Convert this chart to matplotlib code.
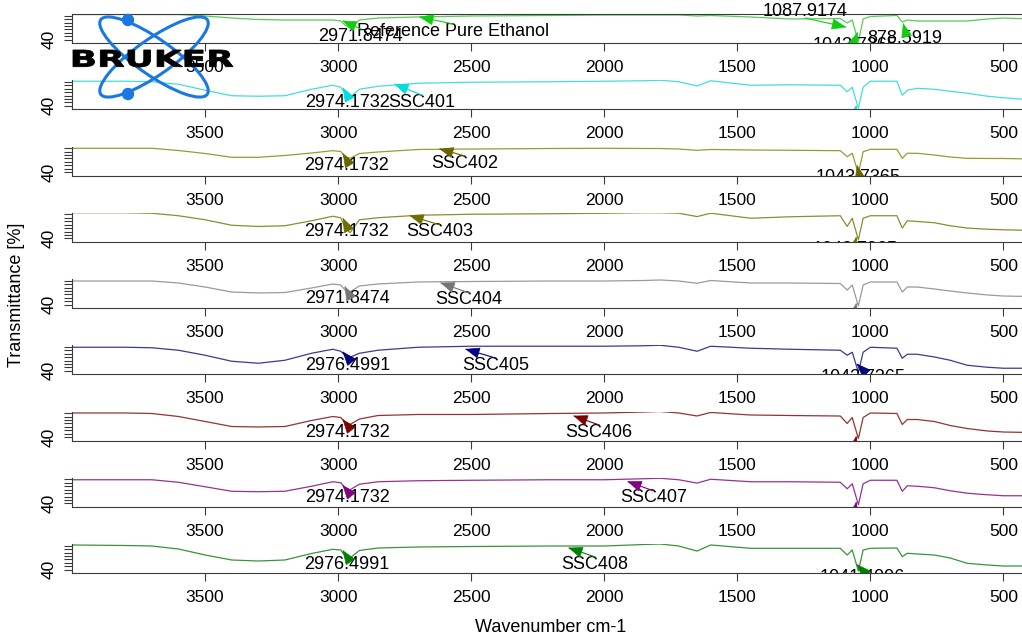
"""
FTIR spectra of the SSC40x samples against pure ethanol, stacked panels
"""

import numpy as np
import matplotlib
matplotlib.use("Agg")
import matplotlib.pyplot as plt
from matplotlib.patches import Ellipse, Circle, PathPatch, Polygon
from matplotlib.lines import Line2D
from matplotlib.textpath import TextPath
from matplotlib.font_manager import FontProperties
from matplotlib.transforms import Affine2D, IdentityTransform

plt.rcParams['font.family'] = ['Liberation Sans', 'DejaVu Sans']

# wavenumber grid [cm-1] shared by every spectrum
wavenumber = [4000, 3800, 3700, 3600, 3500, 3400, 3300, 3200, 3100, 3020,
              2990, 2974, 2955, 2920, 2850, 2700, 2500, 2200, 2000, 1850,
              1790, 1720, 1651, 1600, 1450, 1300, 1113, 1087, 1068, 1045,
              1027, 1000, 900, 880, 861, 824, 760, 700, 636, 560,
              500, 400]

# transmittance [%]
t_ref = [98.8, 98.8, 98.8, 98.8, 95.3, 90.6, 87.1, 85.9, 85.9, 85.9,
         83.6, 74.2, 67.2, 85.9, 90.6, 93.0, 95.3, 96.5, 97.7, 97.7,
         97.7, 97.7, 95.3, 96.5, 93.0, 88.3, 89.4, 78.9, 85.9, 34.3,
         88.3, 94.1, 96.5, 81.2, 85.9, 83.6, 83.6, 83.6, 83.6, 88.3,
         90.6, 88.3]
t_401 = [97.7, 97.7, 96.5, 90.6, 76.6, 63.7, 62.5, 63.7, 78.9, 88.3,
         83.6, 69.5, 60.1, 78.9, 85.9, 93.0, 95.3, 96.5, 97.7, 98.8,
         100.0, 96.5, 86.5, 98.8, 88.3, 89.4, 88.3, 73.0, 83.6, 34.3,
         83.6, 97.7, 97.7, 64.8, 76.6, 81.2, 78.9, 74.2, 69.5, 62.5,
         59.0, 54.3]
t_402 = [95.8, 95.8, 95.8, 90.6, 83.6, 74.7, 74.7, 78.9, 84.8, 90.2,
         88.3, 76.6, 72.3, 83.6, 87.1, 93.0, 94.1, 95.3, 95.8, 95.3,
         95.3, 94.1, 91.0, 93.0, 91.8, 91.1, 90.2, 76.1, 84.1, 36.7,
         87.8, 93.4, 93.4, 72.3, 84.1, 84.1, 80.1, 75.4, 72.3, 71.9,
         71.9, 70.7]
t_403 = [100.0, 100.0, 98.8, 93.0, 83.6, 70.7, 67.9, 69.5, 81.2, 91.8,
         88.3, 64.8, 53.1, 83.6, 88.3, 94.1, 96.5, 97.7, 98.8, 100.0,
         100.0, 99.0, 91.0, 99.0, 87.1, 90.6, 93.0, 67.9, 87.1, 36.7,
         87.1, 93.0, 93.0, 64.1, 81.2, 79.6, 76.6, 69.5, 64.1, 61.3,
         60.1, 58.5]
t_404 = [95.3, 95.3, 95.3, 90.6, 81.2, 69.5, 67.2, 68.3, 78.9, 88.3,
         85.9, 74.2, 69.5, 83.6, 88.3, 93.0, 94.1, 95.3, 95.3, 96.5,
         97.7, 95.3, 90.0, 96.5, 90.6, 90.6, 89.4, 74.2, 85.9, 36.7,
         85.9, 93.0, 93.0, 69.5, 81.2, 81.2, 76.6, 71.9, 67.2, 62.5,
         60.1, 59.0]
t_405 = [95.3, 95.3, 94.1, 88.3, 76.6, 62.5, 57.8, 64.8, 81.2, 90.6,
         85.9, 76.6, 71.9, 81.2, 88.3, 95.3, 97.7, 97.7, 97.7, 98.8,
         100.0, 95.3, 86.0, 97.7, 93.0, 90.6, 88.3, 76.6, 83.6, 36.7,
         83.6, 95.3, 93.0, 69.5, 78.9, 78.9, 72.6, 64.8, 53.1, 48.4,
         46.1, 46.1]
t_406 = [96.5, 96.5, 95.3, 88.3, 76.6, 64.8, 63.7, 64.8, 78.9, 88.3,
         85.9, 74.2, 69.5, 82.4, 90.6, 93.0, 93.0, 95.3, 96.5, 98.8,
         100.0, 96.5, 89.5, 97.7, 91.8, 90.6, 89.4, 71.9, 85.9, 36.7,
         85.9, 96.5, 95.3, 69.5, 81.2, 81.2, 76.6, 67.2, 60.1, 54.3,
         51.9, 50.8]
t_407 = [95.3, 95.3, 95.3, 89.4, 78.9, 68.3, 67.2, 68.3, 80.1, 90.6,
         88.3, 76.6, 71.9, 84.8, 90.6, 93.0, 94.1, 95.3, 95.3, 97.7,
         98.8, 95.3, 87.5, 96.5, 90.6, 90.6, 89.4, 74.2, 85.9, 36.7,
         85.9, 94.1, 94.1, 68.3, 81.2, 80.1, 76.6, 69.5, 63.7, 60.1,
         57.8, 57.8]
t_408 = [97.7, 96.5, 95.3, 88.3, 74.2, 62.5, 60.1, 62.5, 77.7, 87.6,
         85.9, 71.9, 67.2, 84.8, 90.6, 93.0, 94.1, 95.3, 95.3, 98.8,
         100.0, 95.3, 83.5, 97.7, 89.9, 89.9, 89.9, 74.2, 85.9, 36.7,
         85.9, 89.9, 90.6, 70.2, 78.2, 76.6, 74.2, 67.2, 54.7, 50.8,
         48.4, 48.4]
spectra = [t_ref, t_401, t_402, t_403, t_404, t_405, t_406, t_407, t_408]

samples = ["Reference Pure Ethanol", "SSC401", "SSC402", "SSC403", "SSC404",
           "SSC405", "SSC406", "SSC407", "SSC408"]
line_colors = ["#55cc55", "#44dddd", "#9a9a33", "#8c8c33", "#9a9a9a",
               "#3a3a90", "#933333", "#933393", "#3a933a"]
mark_colors = ["#11cc11", "#00dddd", "#666600", "#6e6e00", "#777777",
               "#000080", "#800000", "#800080", "#008000"]

# sample name label: label centre and arrow tip
name_x = [2568, 2684, 2523, 2620, 2508, 2406, 2019, 1816, 2034]
name_y = [60.1, 48.4, 61.3, 55.4, 50.8, 53.1, 51.9, 53.1, 53.1]
name_tip_x = [2692, 2786, 2617, 2729, 2613, 2519, 2113, 1910, 2132]
name_tip_y = [93.0, 90.6, 94.1, 93.0, 90.6, 90.6, 89.4, 90.6, 90.6]

# C-H stretch peak labels
ch_labels = ["2971.8474", "2974.1732", "2974.1732", "2974.1732", "2971.8474",
             "2976.4991", "2974.1732", "2974.1732", "2976.4991"]
ch_x = [2914, 2966, 2970, 2970, 2966, 2962, 2966, 2966, 2966]
ch_y = [48.4, 48.4, 54.3, 55.4, 55.4, 53.1, 51.9, 53.1, 53.1]
ch_tip_x = [2981, 2981, 2981, 2981, 2974, 2981, 2981, 2981, 2981]
ch_tip_y = [83.6, 81.2, 82.4, 85.9, 81.2, 83.6, 80.1, 81.2, 83.6]

# C-O stretch peak labels (mostly cut off by the panel bottom)
co_labels = ["1043.7365"] * 8 + ["1041.4096"]
co_x = [1057, 1057, 1045, 1057, 1057, 1027, 1057, 1057, 1030]
co_y = [25.0, 13.2, 26.4, 13.2, 13.2, 25.0, 12.0, 10.9, 22.1]
co_tip_x = [1049, 1053, 1049, 1053, 1053, 1049, 1053, 1053, 1049]
co_tip_y = [55.4, 39.0, 54.3, 41.4, 41.4, 55.4, 40.2, 41.4, 50.8]

# extra peaks picked on the reference spectrum
ref_labels = ["1087.9174", "878.5919"]
ref_x = [1245, 869]
ref_y = [107.0, 43.7]
ref_tip_x = [1094, 876]
ref_tip_y = [69.5, 76.6]

xticks = [3500, 3000, 2500, 2000, 1500, 1000, 500]
yticks = [40, 48, 56, 64, 72, 80, 88, 96]
ytick_labels = ["40", "", "", "", "", "", "", ""]


def peak_label(ax, text, tx, ty, px, py, color, clip=True):
    # label text plus a leader line with a filled head at the peak
    ax.text(tx, ty, text, ha='center', va='center', fontsize=13,
            clip_on=clip, zorder=3)
    tip = ax.transData.transform((px, py))
    lab = ax.transData.transform((tx, ty))
    tail = lab + np.array([0.0, 7.0 if tip[1] > lab[1] else -7.0])
    d = tail - tip
    d = d / np.hypot(d[0], d[1])
    n = np.array([-d[1], d[0]])
    head = Polygon([tip, tip + 13 * d + 5 * n, tip + 13 * d - 5 * n],
                   closed=True, transform=IdentityTransform(),
                   facecolor=color, edgecolor=color, lw=0.5, zorder=4)
    ax.add_patch(head)
    ax.add_line(Line2D([tip[0], tail[0]], [tip[1], tail[1]],
                       transform=IdentityTransform(), color=color, lw=0.8,
                       zorder=4))


W, H = 1022.0, 639.0
fig = plt.figure(figsize=(W / 100, H / 100), dpi=100)
left_px, right_px = 72.0, 1030.0

for k in range(len(spectra)):
    bottom_px = 43 + 66.25 * k
    ax = fig.add_axes([left_px / W, 1 - bottom_px / H,
                       (right_px - left_px) / W, 29 / H])
    ax.plot(wavenumber, spectra[k], color=line_colors[k], lw=0.9)
    ax.set_xlim(4000, 400)
    ax.set_ylim(32, 100)

    for side in ["top", "right", "left", "bottom"]:
        ax.spines[side].set_color("#3a3a3a")
        ax.spines[side].set_linewidth(0.8)
    ax.spines["right"].set_visible(False)
    ax.spines["top"].set_visible(k == 0)

    ax.set_xticks(xticks)
    ax.set_xticklabels([str(v) for v in xticks])
    ax.set_yticks(yticks)
    ax.set_yticklabels(ytick_labels, rotation=90, va='center')
    ax.tick_params(axis='x', length=5.8, width=0.8, pad=6.5, labelsize=12.5,
                   color="#3a3a3a")
    ax.tick_params(axis='y', length=5.8, width=0.8, pad=5, labelsize=12.5,
                   color="#3a3a3a")

    c = mark_colors[k]
    peak_label(ax, samples[k], name_x[k], name_y[k],
               name_tip_x[k], name_tip_y[k], c)
    peak_label(ax, ch_labels[k], ch_x[k], ch_y[k],
               ch_tip_x[k], ch_tip_y[k], c)
    peak_label(ax, co_labels[k], co_x[k], co_y[k],
               co_tip_x[k], co_tip_y[k], c)
    if k == 0:
        for i in range(len(ref_labels)):
            peak_label(ax, ref_labels[i], ref_x[i], ref_y[i],
                       ref_tip_x[i], ref_tip_y[i], c, clip=(i != 0))

fig.text(17 / W, 1 - 295 / H, "Transmittance [%]", rotation=90,
         ha='center', va='center', fontsize=13)
fig.text(551 / W, 1 - 628 / H, "Wavenumber cm-1",
         ha='center', va='center', fontsize=13)

# instrument logo, top left
logo_blue = "#1a78e0"
tr_in = fig.dpi_scale_trans
for ang in (35, -35):
    fig.add_artist(Ellipse((1.54, 5.82), 1.30, 0.36, angle=ang, fill=False,
                           edgecolor=logo_blue, lw=2.2, transform=tr_in))
for cy in (6.19, 5.45):
    fig.add_artist(Circle((1.28, cy), 0.055, color=logo_blue, transform=tr_in))
tp = TextPath((0, 0), "BRUKER", size=20,
              prop=FontProperties(family='DejaVu Sans', weight='bold'))
ext = tp.get_extents()
tr_txt = (Affine2D().translate(-ext.x0, -ext.y0)
          .scale(1.60 / ext.width, 0.17 / ext.height)
          .translate(0.73, 5.72) + tr_in)
fig.add_artist(PathPatch(tp, facecolor='black', edgecolor='black', lw=0.6,
                         transform=tr_txt))

fig.savefig("out.png", dpi=100)
